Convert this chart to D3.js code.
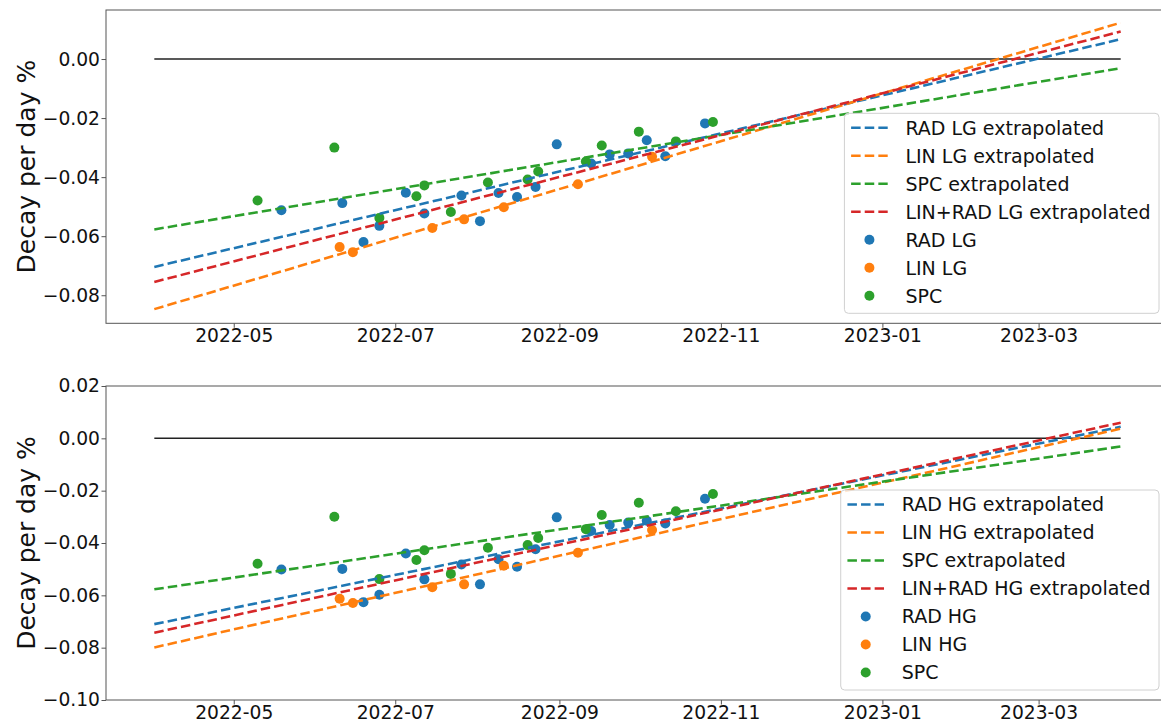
<!DOCTYPE html>
<html>
<head>
<meta charset="utf-8">
<script src="https://cdn.jsdelivr.net/npm/d3@7"></script>
<style>
  html, body { margin: 0; padding: 0; background: #fff; }
  svg { display: block; font-family: "DejaVu Sans", sans-serif; }
</style>
</head>
<body>
<svg id="chart" width="1161" height="723"></svg>
<script>
// Measurement dates (shared by the low-gain and high-gain panels)
const radDates = ["2022-05-19","2022-06-11","2022-06-19","2022-06-25","2022-07-05","2022-07-12",
                  "2022-07-26","2022-08-02","2022-08-09","2022-08-16","2022-08-23","2022-08-31",
                  "2022-09-13","2022-09-20","2022-09-27","2022-10-04","2022-10-11","2022-10-26"];
const linDates = ["2022-06-10","2022-06-15","2022-07-15","2022-07-27","2022-08-11","2022-09-08","2022-10-06"];
const spcDates = ["2022-05-10","2022-06-08","2022-06-25","2022-07-09","2022-07-12","2022-07-22",
                  "2022-08-05","2022-08-20","2022-08-24","2022-09-11","2022-09-17","2022-10-01",
                  "2022-10-15","2022-10-29"];

// Decay per day (%) — low gain
const radLG = [-0.0512,-0.0488,-0.0620,-0.0565,-0.0453,-0.0523,-0.0462,-0.0549,-0.0454,
               -0.0467,-0.0433,-0.0289,-0.0354,-0.0323,-0.0320,-0.0275,-0.0329,-0.0218];
const linLG = [-0.0637,-0.0654,-0.0572,-0.0543,-0.0502,-0.0424,-0.0331];
// Decay per day (%) — high gain
const radHG = [-0.0501,-0.0499,-0.0626,-0.0598,-0.0440,-0.0539,-0.0482,-0.0558,-0.0462,
               -0.0491,-0.0424,-0.0302,-0.0354,-0.0331,-0.0322,-0.0315,-0.0325,-0.0231];
const linHG = [-0.0613,-0.0629,-0.0569,-0.0558,-0.0487,-0.0437,-0.0350];
// SPC reference
const spc = [-0.0479,-0.0300,-0.0538,-0.0465,-0.0428,-0.0518,-0.0418,-0.0408,-0.0381,
             -0.0347,-0.0293,-0.0246,-0.0279,-0.0213];

// Extrapolated linear fits, evaluated at the two ends of the span
const fitDates = ["2022-04-01","2023-04-01"];
const fitRadLG = [-0.0704, 0.0067];
const fitLinLG = [-0.0847, 0.0123];
const fitSpc   = [-0.0577, -0.0031];
const fitMixLG = [-0.0755, 0.0093];
const fitRadHG = [-0.0710, 0.0044];
const fitLinHG = [-0.0799, 0.0037];
const fitMixHG = [-0.0743, 0.0060];
const zeroLine = [0, 0];

const xTickLabels = ["2022-05","2022-07","2022-09","2022-11","2023-01","2023-03"];
const yTicksLG = [0, -0.02, -0.04, -0.06, -0.08];
const yTicksHG = [0.02, 0, -0.02, -0.04, -0.06, -0.08, -0.10];
const legendLG = ["RAD LG extrapolated","LIN LG extrapolated","SPC extrapolated","LIN+RAD LG extrapolated","RAD LG","LIN LG","SPC"];
const legendHG = ["RAD HG extrapolated","LIN HG extrapolated","SPC extrapolated","LIN+RAD HG extrapolated","RAD HG","LIN HG","SPC"];
const yLabel = "Decay per day %";

const C = { blue: "#1f77b4", orange: "#ff7f0e", green: "#2ca02c", red: "#d62728" };

const parse = d3.utcParse("%Y-%m-%d");
const parseMonth = d3.utcParse("%Y-%m");
const svg = d3.select("#chart");

const plotLeft = 106, plotRight = 1169;
const x = d3.scaleUtc()
  .domain([Date.UTC(2022, 2, 13, 18), Date.UTC(2023, 3, 19, 6)])
  .range([plotLeft, plotRight]);

const tickFont = 18.7, legendFont = 19, labelFont = 25, lw = 2.57;
const dash = `${(3.7 * lw).toFixed(2)},${(1.6 * lw).toFixed(2)}`;
const rDot = 5;

function panel(opt) {
  const { top, bottom, yDomain, yTicks, rad, lin, fits, legend } = opt;
  const y = d3.scaleLinear().domain(yDomain).range([bottom, top]);
  const g = svg.append("g");

  // axes
  const xAxis = d3.axisBottom(x)
    .tickValues(xTickLabels.map(parseMonth))
    .tickFormat(d3.utcFormat("%Y-%m"))
    .tickSize(4.5).tickPadding(1.4);
  const yAxis = d3.axisLeft(y)
    .tickValues(yTicks).tickFormat(d3.format(".2f"))
    .tickSize(4.5).tickPadding(1.5);

  const gx = g.append("g").attr("transform", `translate(0,${bottom})`).call(xAxis);
  const gy = g.append("g").attr("transform", `translate(${plotLeft},0)`).call(yAxis);
  [gx, gy].forEach(a => {
    a.select(".domain").remove();
    a.selectAll(".tick line").attr("stroke", "#555").attr("stroke-width", 1);
    a.selectAll(".tick text").attr("fill", "#111")
      .style("font-size", tickFont + "px").style("font-family", "DejaVu Sans");
  });

  g.append("text")
    .attr("transform", `translate(26,${(top + bottom) / 2}) rotate(-90)`)
    .attr("text-anchor", "middle").attr("dominant-baseline", "central")
    .style("font-size", labelFont + "px").attr("fill", "#111")
    .text(yLabel);

  // scatter (drawn beneath the fitted lines)
  const scatter = [[radDates, rad, C.blue], [linDates, lin, C.orange], [spcDates, spc, C.green]];
  scatter.forEach(([dates, vals, col]) => {
    g.append("g").selectAll("circle").data(vals).join("circle")
      .attr("cx", (d, i) => x(parse(dates[i])))
      .attr("cy", d => y(d))
      .attr("r", rDot).attr("fill", col);
  });

  // zero reference
  const line = d3.line().x((d, i) => x(parse(fitDates[i]))).y(d => y(d));
  g.append("path").datum(zeroLine).attr("d", line)
    .attr("fill", "none").attr("stroke", "#222").attr("stroke-width", 1.5);

  // fitted, extrapolated lines
  fits.forEach(([vals, col]) => {
    g.append("path").datum(vals).attr("d", line)
      .attr("fill", "none").attr("stroke", col)
      .attr("stroke-width", lw).attr("stroke-dasharray", dash);
  });

  // frame
  g.append("rect")
    .attr("x", plotLeft).attr("y", top)
    .attr("width", plotRight - plotLeft).attr("height", bottom - top)
    .attr("fill", "none").attr("stroke", "#555").attr("stroke-width", 1);

  // legend, anchored lower right
  const lg = g.append("g");
  const boxRight = plotRight - 10, boxBottom = bottom - 10, rowH = 28;
  const boxTop = boxBottom - 200;
  const box = lg.append("rect").attr("rx", 4).attr("ry", 4)
    .attr("fill", "#fff").attr("fill-opacity", 0.8)
    .attr("stroke", "#d0d0d0").attr("stroke-width", 1);
  const texts = lg.selectAll("text").data(legend).join("text")
    .attr("y", (d, i) => boxTop + 14.5 + rowH * i)
    .attr("dy", "0.36em")
    .style("font-size", legendFont + "px").attr("fill", "#111")
    .text(d => d);
  let maxW = 0;
  texts.each(function () { maxW = Math.max(maxW, this.getComputedTextLength()); });
  const textX = boxRight - 8.5 - maxW;
  const hEnd = textX - 17.7, hStart = hEnd - 36.6, boxLeft = hStart - 6.7;
  texts.attr("x", textX);
  box.attr("x", boxLeft).attr("y", boxTop)
    .attr("width", boxRight - boxLeft).attr("height", boxBottom - boxTop);
  const handleCols = [C.blue, C.orange, C.green, C.red];
  handleCols.forEach((col, i) => {
    lg.append("line")
      .attr("x1", hStart).attr("x2", hEnd)
      .attr("y1", boxTop + 14.5 + rowH * i).attr("y2", boxTop + 14.5 + rowH * i)
      .attr("stroke", col).attr("stroke-width", lw).attr("stroke-dasharray", dash);
  });
  [C.blue, C.orange, C.green].forEach((col, j) => {
    lg.append("circle")
      .attr("cx", (hStart + hEnd) / 2).attr("cy", boxTop + 14.5 + rowH * (4 + j))
      .attr("r", rDot).attr("fill", col);
  });
}

panel({
  top: 10, bottom: 323.3, yDomain: [-0.0895, 0.0166], yTicks: yTicksLG,
  rad: radLG, lin: linLG,
  fits: [[fitRadLG, C.blue], [fitLinLG, C.orange], [fitSpc, C.green], [fitMixLG, C.red]],
  legend: legendLG
});
panel({
  top: 386, bottom: 700, yDomain: [-0.10, 0.02], yTicks: yTicksHG,
  rad: radHG, lin: linHG,
  fits: [[fitRadHG, C.blue], [fitLinHG, C.orange], [fitSpc, C.green], [fitMixHG, C.red]],
  legend: legendHG
});
</script>
</body>
</html>
